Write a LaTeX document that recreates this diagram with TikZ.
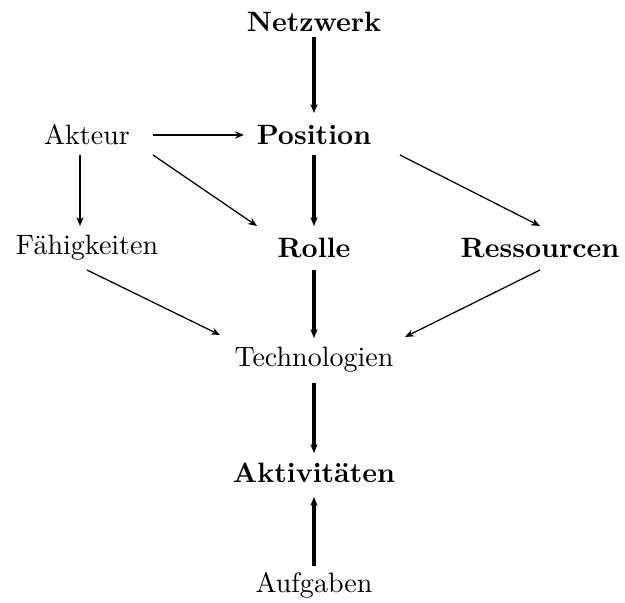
\documentclass[tikz,border=0pt]{standalone}
\usetikzlibrary{arrows.meta,calc}
\begin{document}
\begin{tikzpicture}[x=0.357pt,y=-0.357pt,
  lbl/.style={inner sep=0pt},
  strong/.style={lbl,font=\bfseries},
  tip/.style={-{Stealth[length=3.2pt,width=2.6pt]}},
  heavy/.style={tip,line width=1.15pt},
  medium/.style={tip,line width=0.75pt},
  light/.style={tip,line width=0.45pt}]
\useasboundingbox (0,0) rectangle (625,603);
% nodes
\node[strong] (net) at (314,22) {Netzwerk};
\node[strong] (pos) at (314,135) {Position};
\node[lbl] (akt) at (87,135) {Akteur};
\node[lbl] (fae) at (87,248) {Fähigkeiten};
\node[strong] (rol) at (314,248) {Rolle};
\node[strong] (res) at (540,248) {Ressourcen};
\node[lbl] (tec) at (314,360) {Technologien};
\node[strong] (aktv) at (314,473) {Aktivitäten};
\node[lbl] (auf) at (314,585) {Aufgaben};
% connectors
\draw[heavy] ($(net)+(0,15)$) -- ($(pos)+(0,-22)$);
\draw[heavy] ($(pos)+(0,20)$) -- ($(rol)+(0,-22)$);
\draw[medium] ($(akt)+(66,0)$) -- ($(pos)+(-70,0)$);
\draw[medium] ($(akt)+(-7,20)$) -- ($(fae)+(-7,-22)$);
\draw[light] ($(akt)+(66,20)$) -- ($(rol)+(-57,-22)$);
\draw[light] ($(pos)+(86,20)$) -- ($(res)+(0,-22)$);
\draw[light] ($(fae)+(0,22)$) -- ($(tec)+(-94,-25)$);
\draw[light] ($(res)+(0,22)$) -- ($(tec)+(91,-23)$);
\draw[heavy] ($(rol)+(0,22)$) -- ($(tec)+(0,-22)$);
\draw[heavy] ($(tec)+(0,23)$) -- ($(aktv)+(0,-20)$);
\draw[heavy] ($(auf)+(0,-19)$) -- ($(aktv)+(0,24)$);
\end{tikzpicture}
\end{document}
